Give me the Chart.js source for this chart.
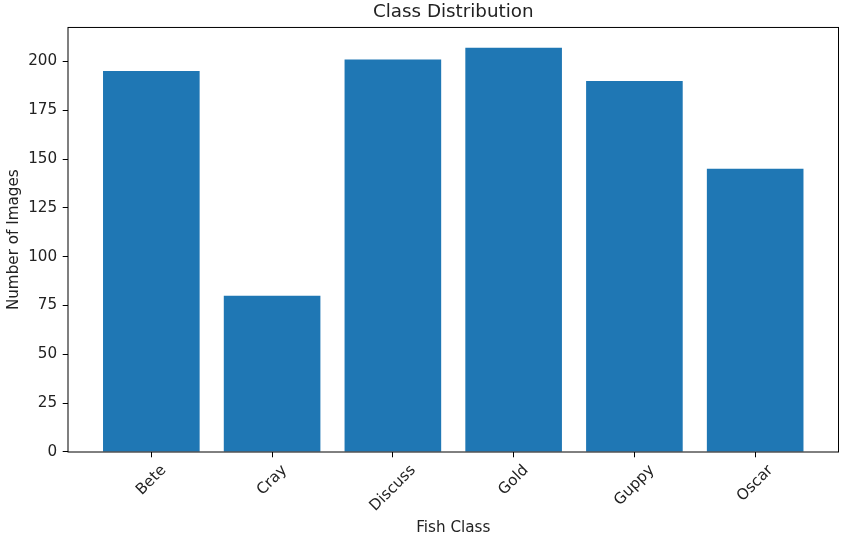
<!DOCTYPE html>
<html lang="en">
  <head>
    <meta charset="UTF-8" />
    <script src="https://cdn.jsdelivr.net/npm/chart.js"></script>
    <title>Class Distribution</title>
    <style>
      html, body { margin: 0; padding: 0; background: #fff; }
      #wrap { width: 846px; height: 538px; }
    </style>
  </head>
  <body>
    <div id="wrap"><canvas id="myChart"></canvas></div>
    <script>
      // values
      var clases = ["Bete", "Cray", "Discuss", "Gold", "Guppy", "Oscar"];
      var nro_imagenes = [195, 80, 201, 207, 190, 145];
      var y_ticks = [0, 25, 50, 75, 100, 125, 150, 175, 200];

      var fuente = "'DejaVu Sans', sans-serif";
      var tickSize = 15.2;
      var texto = "#222";

      // four spines around the plot area; title centred over the axes
      var marco = {
        id: "marco",
        afterLayout: function (chart) {
          if (chart.titleBlock) {
            chart.titleBlock.left = chart.chartArea.left;
            chart.titleBlock.right = chart.chartArea.right;
          }
        },
        afterDatasetsDraw: function (chart) {
          var a = chart.chartArea;
          var c = chart.ctx;
          c.save();
          c.strokeStyle = "#000";
          c.lineWidth = 1;
          c.strokeRect(a.left, a.top, a.right - a.left, a.bottom - a.top);
          c.restore();
        },
      };

      // x labels rotated 45 deg and centred on their tick (matplotlib style)
      var etiquetasX = {
        id: "etiquetasX",
        afterDraw: function (chart) {
          var sx = chart.scales.x;
          var c = chart.ctx;
          var y0 = sx.top + 5.3 + 5.3;
          c.save();
          c.font = tickSize + "px " + fuente;
          c.fillStyle = texto;
          c.textAlign = "center";
          c.textBaseline = "middle";
          sx.ticks.forEach(function (t) {
            var etiqueta = clases[t.value];
            if (etiqueta === undefined) return;
            var w = c.measureText(etiqueta).width;
            var h = tickSize;
            var x = sx.getPixelForValue(t.value);
            var y = y0 + 0.3536 * (w + h);
            c.save();
            c.translate(x, y);
            c.rotate(-Math.PI / 4);
            c.fillText(etiqueta, 0, 0);
            c.restore();
          });
          c.restore();
        },
      };

      var puntos = clases.map(function (c, i) {
        return { x: i, y: nro_imagenes[i] };
      });

      var ctx = document.getElementById("myChart");
      var myChart = new Chart(ctx, {
        type: "bar",
        data: {
          datasets: [
            {
              label: "Images",
              data: puntos,
              backgroundColor: "#1f77b4",
              borderWidth: 0,
              barPercentage: 0.8,
              categoryPercentage: 1,
            },
          ],
        },
        plugins: [marco, etiquetasX],
        options: {
          responsive: true,
          maintainAspectRatio: false,
          animation: false,
          layout: { padding: { left: 0, right: 7.5, top: 0, bottom: 0 } },
          plugins: {
            legend: { display: false },
            tooltip: { enabled: false },
            title: {
              display: true,
              text: "Class Distribution",
              color: texto,
              font: { family: fuente, size: 18.3, weight: "normal" },
              padding: { top: 1.5, bottom: 4 },
            },
          },
          scales: {
            x: {
              type: "linear",
              min: -0.69,
              max: 5.69,
              offset: false,
              border: { display: false },
              grid: {
                display: true,
                offset: false,
                drawOnChartArea: false,
                drawTicks: true,
                tickLength: 5.3,
                color: "#000",
              },
              afterBuildTicks: function (scale) {
                scale.ticks = clases.map(function (c, i) {
                  return { value: i };
                });
              },
              afterFit: function (scale) {
                scale.height = 86;
              },
              ticks: {
                display: false,
                autoSkip: false,
              },
              title: {
                display: true,
                text: "Fish Class",
                color: texto,
                font: { family: fuente, size: tickSize },
                padding: { top: 0, bottom: 1 },
              },
            },
            y: {
              min: 0,
              max: 217.35,
              border: { display: false },
              grid: {
                display: true,
                drawOnChartArea: false,
                drawTicks: true,
                tickLength: 5.3,
                color: "#000",
              },
              afterBuildTicks: function (scale) {
                scale.ticks = y_ticks.map(function (v) {
                  return { value: v };
                });
              },
              afterFit: function (scale) {
                scale.width = 68;
              },
              ticks: {
                padding: 5.5,
                color: texto,
                font: { family: fuente, size: tickSize },
              },
              title: {
                display: true,
                text: "Number of Images",
                color: texto,
                font: { family: fuente, size: tickSize },
                padding: { top: 5, bottom: 0 },
              },
            },
          },
        },
      });
    </script>
  </body>
</html>
